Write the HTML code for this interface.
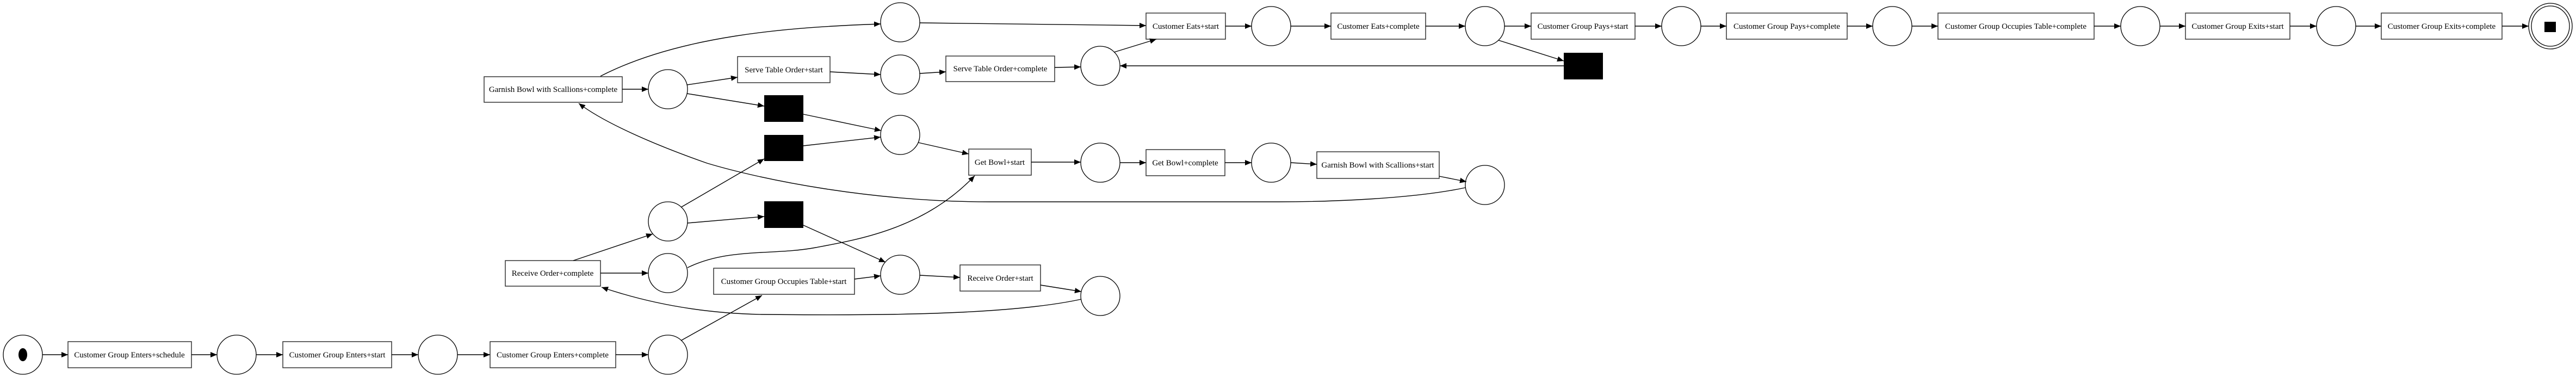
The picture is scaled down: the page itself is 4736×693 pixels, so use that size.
<!DOCTYPE html>
<html><head><meta charset="utf-8"><style>
html,body{margin:0;padding:0;background:#fff;}
svg{display:block;}
text{font-family:"Liberation Serif",serif;font-size:15px;fill:#000;}
</style></head><body>
<svg width="4736" height="693" viewBox="0 0 4736 693" xmlns="http://www.w3.org/2000/svg">
<defs>
<marker id="a" markerWidth="12" markerHeight="10" refX="12" refY="5" orient="auto" markerUnits="userSpaceOnUse"><path d="M0,0 L12,5 L0,10 z" fill="#000"/></marker>
</defs>
<g fill="#fff" stroke="#000" stroke-width="1.3">
<circle cx="42" cy="652" r="36"/>
<circle cx="435" cy="652" r="36"/>
<circle cx="805" cy="652" r="36"/>
<circle cx="1228" cy="652" r="36"/>
<circle cx="1228" cy="164" r="36"/>
<circle cx="1228" cy="407" r="36"/>
<circle cx="1228" cy="502" r="36"/>
<circle cx="1655" cy="41" r="36"/>
<circle cx="1655" cy="137" r="36"/>
<circle cx="1655" cy="248" r="36"/>
<circle cx="1655" cy="505" r="36"/>
<circle cx="2023" cy="121" r="36"/>
<circle cx="2023" cy="299" r="36"/>
<circle cx="2023" cy="544" r="36"/>
<circle cx="2337" cy="48" r="36"/>
<circle cx="2337" cy="299" r="36"/>
<circle cx="2730" cy="48" r="36"/>
<circle cx="2730" cy="340" r="36"/>
<circle cx="3091" cy="48" r="36"/>
<circle cx="3479" cy="48" r="36"/>
<circle cx="3935" cy="48" r="36"/>
<circle cx="4295" cy="48" r="36"/>
<ellipse cx="4689" cy="48" rx="40" ry="42"/>
<ellipse cx="4689" cy="48" rx="35" ry="37"/>
</g>
<ellipse cx="42" cy="652" rx="8" ry="12" fill="#000"/>
<rect x="4678" y="40" width="21" height="19" fill="#000"/>
<g fill="#000">
<rect x="1405" y="175" width="72" height="49"/>
<rect x="1405" y="248" width="72" height="48"/>
<rect x="1405" y="370" width="72" height="49"/>
<rect x="2875" y="97" width="72" height="49"/>
</g>
<g fill="#fff" stroke="#333" stroke-width="1.5">
<rect x="125" y="628" width="227" height="48"/>
<rect x="520" y="628" width="200" height="48"/>
<rect x="901" y="628" width="231" height="48"/>
<rect x="929" y="479" width="175" height="47"/>
<rect x="1312" y="493" width="259" height="48"/>
<rect x="1765" y="487" width="148" height="48"/>
<rect x="890" y="141" width="254" height="47"/>
<rect x="1356" y="104" width="170" height="48"/>
<rect x="1739" y="103" width="200" height="47"/>
<rect x="1781" y="274" width="115" height="48"/>
<rect x="2107" y="275" width="145" height="48"/>
<rect x="2421" y="279" width="225" height="49"/>
<rect x="2107" y="24" width="146" height="48"/>
<rect x="2447" y="24" width="174" height="48"/>
<rect x="2815" y="24" width="191" height="48"/>
<rect x="3174" y="24" width="222" height="48"/>
<rect x="3563" y="24" width="287" height="48"/>
<rect x="4018" y="24" width="192" height="48"/>
<rect x="4378" y="24" width="222" height="48"/>
</g>
<g text-anchor="middle">
<text x="238" y="657">Customer Group Enters+schedule</text>
<text x="620" y="657">Customer Group Enters+start</text>
<text x="1016" y="657">Customer Group Enters+complete</text>
<text x="1016" y="507">Receive Order+complete</text>
<text x="1441" y="522">Customer Group Occupies Table+start</text>
<text x="1839" y="516">Receive Order+start</text>
<text x="1017" y="169">Garnish Bowl with Scallions+complete</text>
<text x="1441" y="133">Serve Table Order+start</text>
<text x="1839" y="131">Serve Table Order+complete</text>
<text x="1838" y="303">Get Bowl+start</text>
<text x="2179" y="304">Get Bowl+complete</text>
<text x="2533" y="308">Garnish Bowl with Scallions+start</text>
<text x="2180" y="53">Customer Eats+start</text>
<text x="2534" y="53">Customer Eats+complete</text>
<text x="2910" y="53">Customer Group Pays+start</text>
<text x="3285" y="53">Customer Group Pays+complete</text>
<text x="3706" y="53">Customer Group Occupies Table+complete</text>
<text x="4114" y="53">Customer Group Exits+start</text>
<text x="4489" y="53">Customer Group Exits+complete</text>
</g>
<g fill="none" stroke="#000" stroke-width="1.4" marker-end="url(#a)">
<path d="M78,652 H125"/>
<path d="M352,652 H399"/>
<path d="M471,652 H520"/>
<path d="M720,652 H769"/>
<path d="M841,652 H901"/>
<path d="M1132,652 H1192"/>
<path d="M1252,626 L1401,543"/>
<path d="M1054,479 L1200,430"/>
<path d="M1104,502 H1192"/>
<path d="M1252,381 L1405,292"/>
<path d="M1264,410 L1405,398"/>
<path d="M1264,492 C1340,455 1420,470 1500,455 S1700,420 1792,323"/>
<path d="M1571,513 L1619,507"/>
<path d="M1477,414 L1628,482"/>
<path d="M1691,506 L1765,510"/>
<path d="M1913,524 L1988,536"/>
<path d="M1988,550 C1850,580 1600,580 1400,578 C1300,576 1200,560 1106,528"/>
<path d="M1144,164 H1192"/>
<path d="M1263,156 L1356,142"/>
<path d="M1263,172 L1405,195"/>
<path d="M1104,140 C1250,65 1450,50 1619,44"/>
<path d="M1691,42 L2107,47"/>
<path d="M1526,132 L1619,137"/>
<path d="M1691,135 L1739,132"/>
<path d="M1939,124 L1987,123"/>
<path d="M2048,96 L2126,72"/>
<path d="M2875,121 H2059"/>
<path d="M2755,74 L2875,112"/>
<path d="M1477,210 L1620,240"/>
<path d="M1477,268 L1619,252"/>
<path d="M1688,262 L1781,283"/>
<path d="M1896,298 H1987"/>
<path d="M2059,299 H2107"/>
<path d="M2252,299 H2301"/>
<path d="M2373,299 L2421,302"/>
<path d="M2646,324 L2696,334"/>
<path d="M2694,345 C2600,365 2450,371 2350,371 L1820,371 C1600,371 1400,330 1300,300 C1200,265 1110,225 1064,190"/>
<path d="M2253,48 H2301"/>
<path d="M2373,48 H2447"/>
<path d="M2621,48 H2694"/>
<path d="M2766,48 H2815"/>
<path d="M3006,48 H3055"/>
<path d="M3127,48 H3174"/>
<path d="M3396,48 H3443"/>
<path d="M3515,48 H3563"/>
<path d="M3850,48 H3899"/>
<path d="M3971,48 H4018"/>
<path d="M4210,48 H4259"/>
<path d="M4331,48 H4378"/>
<path d="M4600,48 H4649"/>
</g>
</svg>
</body></html>
